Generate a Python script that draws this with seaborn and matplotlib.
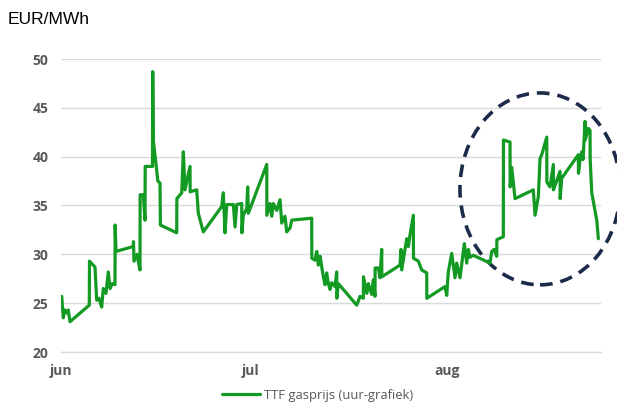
import numpy as np
import pandas as pd
import matplotlib
matplotlib.use("Agg")
import matplotlib.pyplot as plt
import matplotlib.dates as mdates
from matplotlib.patches import Ellipse
import seaborn as sns

# hourly TTF price (days after 1 June)
days = [
    0.11, 0.36, 0.63, 0.9, 1.15, 1.42, 4.47, 4.5, 5.37, 5.64, 6.0, 6.43, 6.68, 7.1,
    7.47, 7.74, 8.1, 8.53, 8.55, 8.69, 11.42, 11.45, 11.53, 12.0, 12.48, 12.5, 13.0,
    13.27, 13.3, 14.45, 14.49, 14.58, 15.3, 15.64, 15.7, 18.28, 18.3, 19.07, 19.32,
    19.59, 20.38, 20.4, 21.44, 21.69, 22.48, 25.39, 25.64, 25.91, 26.18, 27.22,
    27.49, 27.76, 28.55, 28.57, 28.8, 29.34, 29.49, 29.59, 32.5, 32.52, 33.02, 33.29,
    33.54, 34.08, 34.6, 34.87, 35.39, 35.66, 36.18, 36.45, 39.6, 39.62, 40.13, 40.4,
    40.65, 40.92, 41.44, 41.71, 41.97, 42.23, 42.5, 42.76, 43.29, 43.55, 43.57,
    43.81, 46.71, 47.24, 47.76, 47.78, 48.31, 48.55, 49.08, 49.34, 49.6, 49.62,
    50.13, 50.39, 50.66, 50.68, 53.55, 53.71, 53.82, 54.61, 54.87, 55.13, 55.66,
    55.68, 56.45, 56.98, 57.77, 57.79, 60.66, 60.93, 61.18, 61.72, 62.24, 62.51,
    63.03, 63.71, 64.09, 64.34, 64.61, 65.13, 67.77, 68.04, 68.4, 68.83, 68.85,
    69.87, 69.89, 70.93, 70.95, 71.2, 71.72, 74.61, 74.88, 75.4, 75.67, 75.94,
    76.73, 76.75, 77.25, 77.77, 77.79, 78.33, 78.83, 78.85, 79.1, 81.72, 81.74,
    82.0, 82.26, 82.46, 82.78, 82.8, 83.3, 83.57, 83.59, 83.84, 84.63, 84.88,
]
price = [
    25.7, 23.5, 24.3, 24.0, 24.3, 23.1, 24.8, 29.3, 28.7, 25.3, 25.5, 24.6, 26.5, 26.0,
    28.2, 26.5, 27.0, 26.9, 33.0, 30.3, 30.8, 31.3, 29.3, 30.0, 28.4, 36.1, 36.1,
    33.5, 39.0, 39.0, 48.7, 41.7, 37.5, 37.3, 33.0, 32.2, 35.7, 36.3, 40.5,
    36.6, 39.0, 36.4, 36.6, 34.2, 32.3, 34.9, 36.3, 32.2, 35.1, 35.1,
    32.8, 35.1, 35.2, 32.2, 34.0, 34.7, 36.9, 34.2, 39.2, 34.0, 35.2, 33.9,
    35.2, 34.5, 35.6, 33.2, 33.9, 32.3, 32.7, 33.5, 33.7, 29.6, 29.4, 30.3,
    28.9, 29.8, 27.7, 26.9, 28.1, 27.0, 26.4, 27.1, 26.7, 28.2, 25.5,
    27.0, 24.8, 25.7, 25.5, 27.7, 26.0, 27.0, 25.9, 27.4, 25.7, 28.6,
    28.6, 27.6, 30.5, 27.7, 28.9, 30.5, 28.4, 31.6, 30.8, 32.0, 34.0,
    29.6, 29.3, 28.4, 28.1, 25.5, 26.7, 25.8, 28.2, 30.1, 27.6, 29.1,
    27.6, 31.1, 29.1, 30.5, 29.7, 29.9, 29.1, 30.3, 30.5, 29.8, 31.5,
    31.8, 41.7, 41.5, 36.9, 38.9, 35.7, 36.6, 34.0, 35.9, 39.8, 40.2,
    42.0, 37.4, 36.9, 39.2, 36.6, 37.6, 38.5, 35.7, 37.8, 40.2, 38.3,
    39.7, 40.5, 39.7, 43.6, 41.7, 42.9, 42.7, 39.7, 36.3, 33.5, 31.6,
]
tick_dates = ["2023-06-01", "2023-07-01", "2023-08-01"]
tick_labels = ["jun", "jul", "aug"]
y_ticks = [20, 25, 30, 35, 40, 45, 50]

start = pd.Timestamp("2023-06-01")
df = pd.DataFrame({
    "tijd": start + pd.to_timedelta(days, unit="D"),
    "prijs": price,
})

sns.set_style("white")
plt.rcParams["font.family"] = ["Open Sans", "DejaVu Sans"]

grey = "#595959"
green = "#129a22"

fig = plt.figure(figsize=(6.17, 4.03), dpi=100)
ax = fig.add_axes([61 / 617, 51 / 403, 540 / 617, 293 / 403])

sns.lineplot(data=df, x="tijd", y="prijs", ax=ax, sort=False, estimator=None,
             color=green, linewidth=2.3, label="TTF gasprijs (uur-grafiek)")

ax.set_xlim(start, start + pd.Timedelta(days=85.3))
ax.set_ylim(20, 50)
ax.set_yticks(y_ticks)
ax.set_xticks(pd.to_datetime(tick_dates))
ax.set_xticklabels(tick_labels)
ax.set_xlabel("")
ax.set_ylabel("")

ax.grid(axis="y", color="#d9d9d9", linewidth=1)
ax.set_axisbelow(True)
for side in ["top", "right", "left"]:
    ax.spines[side].set_visible(False)
ax.spines["bottom"].set_color("#d9d9d9")
ax.spines["bottom"].set_linewidth(1)
ax.tick_params(axis="x", length=5, color="#d9d9d9", labelsize=10,
               labelcolor=grey, pad=4)
ax.tick_params(axis="y", length=0, labelsize=10, labelcolor=grey, pad=9)
for lab in ax.get_xticklabels() + ax.get_yticklabels():
    lab.set_fontweight("bold")

# dashed circle around August
centre = mdates.date2num(start + pd.Timedelta(days=75.67))
ell = Ellipse((centre, 36.7), width=25.3, height=19.65, fill=False,
              edgecolor="#1c2b4a", linewidth=2.6, linestyle=(0, (3.5, 2.2)),
              clip_on=False)
ax.add_patch(ell)

ax.get_legend().remove()
handles, labels = ax.get_legend_handles_labels()
leg = fig.legend(handles, labels, loc="center",
                 bbox_to_anchor=(318 / 617, 1 - 395 / 403), frameon=False,
                 handlelength=2.9, fontsize=9.4, handletextpad=0.3,
                 borderpad=0, borderaxespad=0)
for t in leg.get_texts():
    t.set_color(grey)

fig.text(8 / 617, 1 - 20 / 403, "EUR/MWh", fontsize=12.5, color="black",
         family="Liberation Sans", va="center", ha="left")

fig.savefig("out.png", dpi=100)
